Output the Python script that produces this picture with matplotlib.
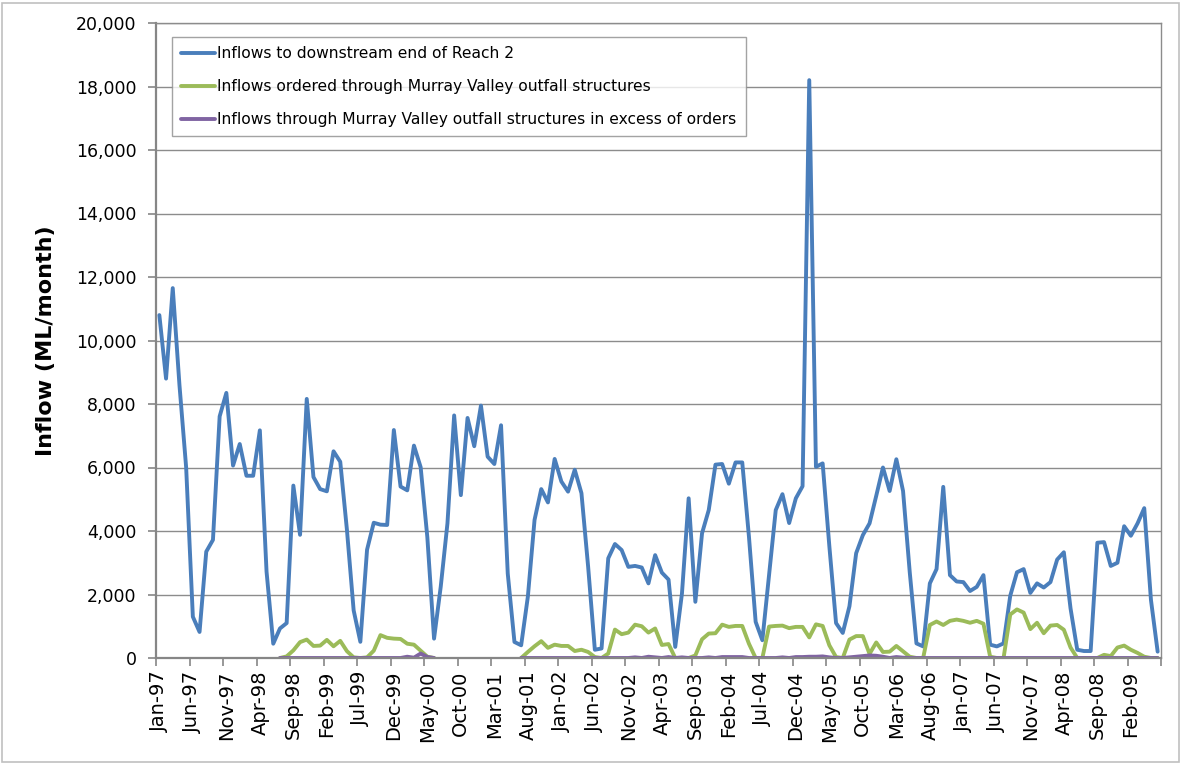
import matplotlib
matplotlib.use("Agg")
import matplotlib.pyplot as plt
from matplotlib.patches import Rectangle
import numpy as np
import pandas as pd

nan = np.nan

# monthly categories Jan-97 .. Jun-09
months = pd.date_range("1997-01-01", periods=150, freq="MS").strftime("%b-%y").tolist()

# Inflows to downstream end of Reach 2 (ML/month)
reach2 = [10800, 8800, 11650, 8600, 6000, 1300, 820, 3350, 3720, 7610,
          8350, 6060, 6740, 5740, 5740, 7170, 2720, 450, 930, 1100,
          5430, 3880, 8160, 5700, 5320, 5250, 6510, 6180, 4030, 1500,
          510, 3410, 4260, 4200, 4190, 7180, 5400, 5280, 6690, 6010,
          3800, 610, 2250, 4240, 7640, 5130, 7560, 6670, 7950, 6340,
          6110, 7330, 2660, 505, 400, 1930, 4350, 5320, 4900, 6270,
          5560, 5240, 5930, 5190, 2870, 260, 300, 3140, 3590, 3400,
          2870, 2900, 2850, 2350, 3240, 2690, 2470, 350, 2030, 5030,
          1770, 3930, 4660, 6090, 6110, 5490, 6160, 6160, 3820, 1140,
          560, 2620, 4660, 5160, 4250, 5030, 5410, 18200, 6020, 6130,
          3520, 1100, 790, 1630, 3300, 3870, 4240, 5110, 6000, 5260,
          6260, 5260, 2700, 460, 365, 2350, 2800, 5390, 2610, 2410,
          2390, 2110, 2240, 2610, 420, 365, 460, 1960, 2700, 2800,
          2050, 2350, 2220, 2390, 3100, 3330, 1560, 260, 220, 220,
          3630, 3650, 2900, 3000, 4150, 3850, 4240, 4720, 1830, 200]

# Inflows ordered through Murray Valley outfall structures
ordered = [nan] * 18 + [
          0, 50, 240, 500, 580, 380, 390, 570, 370, 540,
          215, 20, 0, 20, 230, 720, 635, 610, 600, 450,
          420, 230, 40, 0] + [nan] * 12 + [
          0, 190, 370, 530, 320, 420, 380, 380, 220, 260,
          190, 30, 0, 140, 895, 750, 800, 1050, 1000, 800,
          930, 410, 440, 0, 0, 0, 80, 590, 770, 780,
          1050, 980, 1010, 1010, 450, 0, 0, 990, 1010, 1020,
          940, 980, 980, 650, 1060, 1010, 400, 30, 0, 580,
          690, 690, 130, 490, 190, 200, 380, 210, 40, 0,
          0, 1040, 1150, 1040, 1170, 1210, 1170, 1110, 1170, 1080,
          40, 0, 0, 1370, 1530, 1430, 910, 1110, 780, 1020,
          1040, 890, 330, 0, 0, 0, 0, 100, 60, 330,
          390, 260, 160, 40, 0, 0]

# Inflows through outfall structures in excess of orders
excess = [nan] * 18 + [
          0, 0, 0, 0, 0, 0, 0, 0, 0, 0,
          0, 0, 0, 0, 0, 0, 0, 0, 0, 40,
          10, 140, 30, 0] + [nan] * 12 + [
          0, 0, 0, 0, 0, 0, 0, 0, 0, 0,
          0, 0, 0, 0, 0, 0, 0, 20, 0, 40,
          20, 0, 30, 0, 20, 0, 0, 0, 20, 0,
          30, 30, 30, 30, 0, 0, 0, 0, 0, 20,
          0, 30, 30, 40, 40, 50, 20, 0, 0, 20,
          40, 60, 80, 70, 40, 0, 30, 10, 0, 0,
          0, 0, 0, 0, 0, 0, 0, 0, 0, 0,
          0, 0, 0, 0, 0, 0, 0, 0, 0, 0,
          0, 0, 0, 0, 0, 0, 0, 0, 0, 0,
          0, 0, 0, 0, 0, 0]

labels = ["Inflows to downstream end of Reach 2",
          "Inflows ordered through Murray Valley outfall structures",
          "Inflows through Murray Valley outfall structures in excess of orders"]
colors = ["#4a7ebb", "#9bbb59", "#8064a2"]

plt.rcParams['font.family'] = ['DejaVu Sans']

fig = plt.figure(figsize=(11.83, 7.64), dpi=100)
ax = fig.add_axes([156 / 1183, 106 / 764, 1005 / 1183, 635 / 764])

x = np.arange(len(months))
for series, lab, col in zip([reach2, ordered, excess], labels, colors):
    ax.plot(x, np.array(series, dtype=float), color=col, lw=2.8, label=lab,
            solid_joinstyle='round', solid_capstyle='round')

ax.set_xlim(-0.5, len(months) - 0.5)
ax.set_ylim(0, 20000)
ax.set_yticks(np.arange(0, 20001, 2000))
ax.yaxis.set_major_formatter(matplotlib.ticker.FuncFormatter(lambda v, p: f"{v:,.0f}"))
ax.grid(axis='y', color='#8c8c8c', lw=1)
ax.set_axisbelow(True)

# labels centred on categories, tick marks at category boundaries
ax.set_xticks(x[::5])
ax.set_xticklabels(months[::5], rotation=90, fontsize=14)
ax.set_xticks(np.arange(-0.5, len(months), 5), minor=True)
ax.tick_params(axis='x', which='major', length=0, pad=9)
ax.tick_params(axis='x', which='minor', length=6, color='#868686', width=1.2)
ax.tick_params(axis='y', length=6, color='#868686', width=1.2, labelsize=12.5, pad=8)

for s in ['left', 'bottom']:
    ax.spines[s].set_color('#868686')
    ax.spines[s].set_linewidth(1.6)
for s in ['top', 'right']:
    ax.spines[s].set_color('#8c8c8c')
    ax.spines[s].set_linewidth(1)

ax.set_ylabel("Inflow (ML/month)", fontsize=16, fontweight='bold', labelpad=14)

leg = ax.legend(loc='upper left', bbox_to_anchor=(0.016, 0.978), fontsize=11.2,
                frameon=True, fancybox=False, handlelength=2.15, handletextpad=0.15,
                labelspacing=1.15, borderpad=0.6, borderaxespad=0)
leg.get_frame().set_edgecolor('#8c8c8c')
leg.get_frame().set_linewidth(1)

fig.patches.append(Rectangle((0.002, 0.003), 0.995, 0.993, transform=fig.transFigure,
                             fill=False, edgecolor='#c0c0c0', lw=1.2))

fig.savefig("out.png", dpi=100)
